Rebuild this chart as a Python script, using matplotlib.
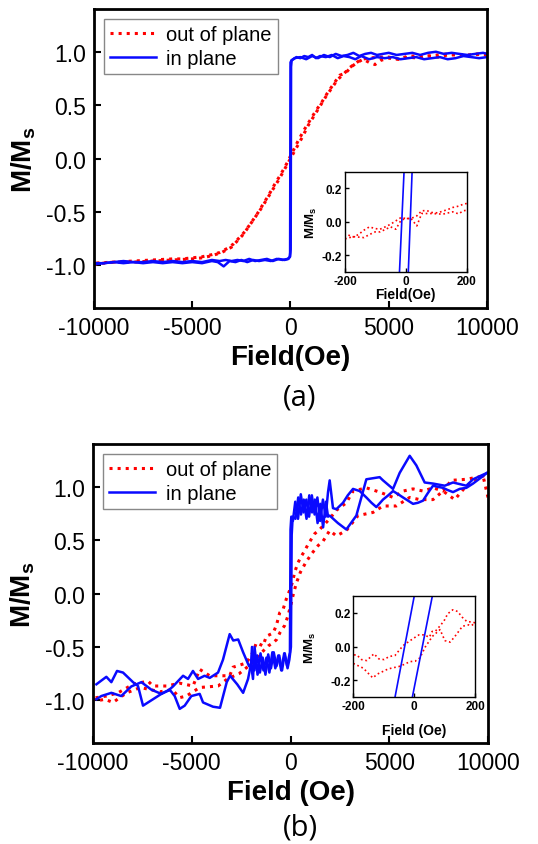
import matplotlib
matplotlib.use('Agg')
import matplotlib.pyplot as plt

plt.rcParams['font.family'] = ['Liberation Sans', 'DejaVu Sans']
plt.rcParams['mathtext.fontset'] = 'custom'
plt.rcParams['mathtext.rm'] = 'Liberation Sans:bold'
plt.rcParams['mathtext.it'] = 'Liberation Sans:bold'
plt.rcParams['mathtext.bf'] = 'Liberation Sans:bold'
plt.rcParams['mathtext.default'] = 'rm'
plt.rcParams['axes.unicode_minus'] = False

RED = '#ff0000'
BLUE = '#0a0aff'

# ---------------- panel (a) ----------------
# out of plane, field sweep down then up
a_oop_down_H = [10000, 9500, 9000, 8500, 8000, 7500, 7000, 6500, 6000, 5500, 5000, 4600, 4300, 4000,
                3700, 3400, 3100, 2800, 2500, 2200, 1900, 1600, 1300, 1000, 700, 400, 100, -200, -500,
                -800, -1100, -1400, -1700, -2000, -2300, -2600, -2900, -3200, -3600, -4000, -4500,
                -5000, -5500, -6000, -7000, -8000, -9000, -10000]
a_oop_down_M = [0.97, 0.98, 0.96, 0.97, 0.97, 0.95, 0.96, 0.94, 0.95, 0.93, 0.94, 0.92, 0.88, 0.90,
                0.93, 0.90, 0.86, 0.80, 0.78, 0.70, 0.62, 0.53, 0.45, 0.36, 0.27, 0.17, 0.06, -0.05, -0.15,
                -0.24, -0.34, -0.43, -0.52, -0.60, -0.68, -0.74, -0.80, -0.84, -0.88, -0.90, -0.92,
                -0.93, -0.94, -0.94, -0.95, -0.96, -0.97, -0.98]
a_oop_up_H = [-10000, -9000, -8000, -7000, -6000, -5000, -4500, -4000, -3500, -3000, -2700, -2400,
              -2100, -1800, -1500, -1200, -900, -600, -300, 0, 300, 600, 900, 1200, 1500, 1800, 2100,
              2400, 2700, 3000, 3300, 3600, 4000, 4500, 5000, 5500, 6000, 7000, 8000, 9000, 10000]
a_oop_up_M = [-0.99, -0.97, -0.97, -0.96, -0.95, -0.94, -0.93, -0.91, -0.88, -0.83, -0.77, -0.71,
              -0.63, -0.55, -0.47, -0.38, -0.29, -0.20, -0.10, 0.0, 0.10, 0.20, 0.31, 0.40, 0.49, 0.58, 0.66,
              0.74, 0.79, 0.85, 0.89, 0.93, 0.94, 0.95, 0.95, 0.93, 0.96, 0.96, 0.98, 0.97, 0.98]

# in plane
a_ip_down_H = [10000, 9600, 9200, 8800, 8400, 8000, 7600, 7200, 6800, 6400, 6000, 5600, 5200, 4800,
               4400, 4000, 3600, 3300, 3000, 2700, 2400, 2100, 1800, 1500, 1300, 1100, 900, 700, 500,
               300, 150, 50, 0, -20, -40, -100, -300, -600, -900, -1200, -1500, -1800, -2100, -2400,
               -2700, -3000, -3300, -3600, -4000, -4500, -5000, -5500, -6000, -6500, -7000, -7500,
               -8000, -8500, -9000, -9500, -10000]
a_ip_down_M = [0.95, 0.94, 0.95, 0.96, 0.94, 0.93, 0.95, 0.94, 0.93, 0.95, 0.94, 0.93, 0.95, 0.94,
               0.95, 0.93, 0.96, 0.93, 0.95, 0.96, 0.94, 0.97, 0.95, 0.96, 0.94, 0.97, 0.95, 0.96, 0.94,
               0.95, 0.93, 0.92, 0.90, -0.88, -0.92, -0.94, -0.95, -0.94, -0.96, -0.94, -0.95, -0.96,
               -0.94, -0.96, -0.95, -0.96, -0.95, -0.96, -0.95, -0.97, -0.96, -0.97, -0.96, -0.97,
               -0.96, -0.97, -0.97, -0.96, -0.97, -0.98, -0.98]
a_ip_up_H = [-10000, -9500, -9000, -8500, -8000, -7500, -7000, -6500, -6000, -5500, -5000, -4500,
             -4000, -3700, -3400, -3100, -2800, -2500, -2200, -1900, -1600, -1300, -1000, -700, -400,
             -150, -20, 10, 30, 60, 200, 500, 800, 1100, 1400, 1700, 2000, 2300, 2600, 2900, 3200,
             3500, 3800, 4100, 4400, 4700, 5000, 5400, 5800, 6200, 6600, 7000, 7400, 7800, 8200, 8600,
             9000, 9400, 9800, 10000]
a_ip_up_M = [-0.99, -0.98, -0.97, -0.98, -0.97, -0.98, -0.97, -0.98, -0.97, -0.98, -0.97, -0.98,
             -0.96, -0.97, -1.01, -0.96, -0.97, -0.95, -0.97, -0.95, -0.96, -0.95, -0.96, -0.94, -0.95,
             -0.94, -0.92, -0.85, 0.86, 0.92, 0.94, 0.95, 0.93, 0.96, 0.94, 0.97, 0.95, 0.98, 0.96, 0.97,
             0.99, 0.96, 0.98, 0.99, 0.97, 0.98, 0.99, 0.97, 0.98, 0.99, 0.97, 0.99, 1.00, 0.98, 0.99,
             0.98, 0.97, 0.98, 0.99, 0.98]

# inset (a), low field detail
ina_oop_down_H = [200, 189, 173, 154, 138, 121, 104, 86, 68, 52, 36, 17, 0, -16, -33, -50, -68, -85,
                  -101, -120, -138, -156, -172, -194, -200]
ina_oop_down_M = [0.11, 0.106, 0.094, 0.086, 0.074, 0.064, 0.054, 0.056, 0.068, 0.066, 0.036, 0.02,
                  0.02, 0.026, 0.006, -0.014, -0.03, -0.044, -0.04, -0.03, -0.05, -0.076, -0.09,
                  -0.076, -0.08]
ina_oop_up_H = [-200, -194, -175, -138, -120, -101, -85, -50, -33, -16, 0, 17, 36, 52, 86, 121, 154,
                173, 189, 200]
ina_oop_up_M = [-0.10, -0.10, -0.088, -0.094, -0.076, -0.06, -0.06, -0.03, -0.044, 0.01, 0.02, 0.02,
                -0.024, 0.05, 0.05, 0.046, 0.06, 0.048, 0.066, 0.07]
ina_ip_down_H = [-4.75, -22.25]
ina_ip_down_M = [0.35, -0.35]
ina_ip_up_H = [7.0, 21.5]
ina_ip_up_M = [-0.35, 0.35]

# ---------------- panel (b) ----------------
b_oop_down_H = [10000, 9750, 8900, 8140, 7720, 7215, 6710, 6200, 5700, 5200, 4514, 3839, 3164, 2827,
                2321, 1983, 1730, 1476, 1223, 1055, 886, 717, 549, 380, 211, 127, 40, -211, -380, -549,
                -717, -886, -1223, -1392, -1729, -1898, -2235, -2910, -3079, -4092, -4599, -4936,
                -5600, -6287, -6962, -7215, -7975, -8734, -9325, -10000]
b_oop_down_M = [0.90, 1.10, 1.07, 1.06, 0.96, 0.99, 0.96, 0.98, 0.96, 0.90, 0.95, 0.99, 0.96, 0.85,
                0.78, 0.70, 0.65, 0.60, 0.56, 0.51, 0.46, 0.40, 0.35, 0.29, 0.20, 0.13, 0.07, -0.05, -0.15,
                -0.18, -0.30, -0.37, -0.40, -0.49, -0.46, -0.55, -0.65, -0.69, -0.77, -0.77, -0.71,
                -0.866, -0.84, -0.866, -0.866, -0.82, -0.85, -0.93, -0.96, -0.98]
b_oop_up_H = [-10000, -9831, -9400, -8987, -8300, -7600, -6600, -6000, -5611, -5274, -4600, -3670,
              -3200, -2600, -2000, -1600, -1291, -1123, -870, -701, -532, -300, -150, 0, 150, 300, 500,
              800, 1100, 1400, 1646, 1983, 2321, 2827, 3417, 4178, 4684, 5359, 6034, 6540, 7215, 7722,
              8312, 8819, 9241, 9747, 10000]
b_oop_up_M = [-0.98, -1.006, -0.99, -1.02, -0.93, -0.88, -0.92, -0.90, -0.975, -0.96, -0.88, -0.866,
              -0.80, -0.75, -0.66, -0.58, -0.52, -0.49, -0.46, -0.43, -0.365, -0.30, -0.22, -0.12, 0.0,
              0.10, 0.20, 0.30, 0.38, 0.45, 0.49, 0.59, 0.54, 0.59, 0.73, 0.76, 0.82, 0.82, 0.90, 0.88,
              0.88, 0.96, 0.88, 0.99, 1.06, 1.10, 1.12]

b_ip_down_H = [9950, 9600, 9241, 8903, 8565, 8228, 7950, 7722, 7450, 7215, 6950, 6709, 6450, 6203,
               5950, 5696, 5450, 5190, 4950, 4683, 4346, 4100, 3839, 3501, 3164, 2900, 2658, 2321, 2150,
               1983, 1899, 1780, 1640, 1500, 1360, 1220, 1080, 940, 800, 660, 520, 380, 240, 120, 40,
               0, -30, -170, -320, -470, -620, -770, -920, -1070, -1220, -1370, -1520, -1670, -1820,
               -1900, -2000, -2100, -2400, -2650, -2900, -3080, -3420, -3670, -4090, -4350, -4680,
               -4940, -5190, -5440, -5950, -6200, -6540, -7050, -7550, -8060, -8570, -9070, -9580,
               -9830]
b_ip_down_M = [1.13, 1.08, 1.03, 0.99, 0.98, 0.95, 0.97, 0.99, 1.00, 1.01, 0.94, 0.87, 0.85, 0.84,
               0.87, 0.90, 0.93, 0.96, 0.92, 0.88, 0.81, 0.85, 0.90, 0.96, 0.98, 0.92, 0.85, 0.79, 0.80,
               1.06, 0.95, 0.72, 0.88, 0.68, 0.90, 0.74, 0.92, 0.72, 0.88, 0.76, 0.93, 0.70, 0.86, 0.68,
               0.72, 0.60, -0.55, -0.68, -0.56, -0.72, -0.58, -0.70, -0.55, -0.74, -0.60, -0.72, -0.56,
               -0.76, -0.50, -0.80, -0.66, -0.68, -0.55, -0.43, -0.44, -0.38, -0.62, -0.74, -0.79,
               -0.77, -0.80, -0.725, -0.80, -0.77, -0.87, -0.91, -0.94, -0.90, -0.83, -0.87, -0.96,
               -0.93, -0.96, -0.99]
b_ip_up_H = [-9830, -9325, -9072, -8785, -8481, -7975, -7722, -7469, -6962, -6456, -6118, -5865, -5611,
             -5358, -5021, -4599, -4430, -3924, -3570, -3230, -3060, -2700, -2400, -2150, -2000, -1950,
             -1830, -1690, -1550, -1410, -1270, -1130, -990, -850, -710, -570, -430, -290, -150, -60,
             20, 60, 110, 250, 390, 530, 670, 810, 950, 1090, 1230, 1370, 1510, 1650, 1790, 1900,
             1983, 2400, 2827, 3333, 3839, 4514, 4683, 5190, 5527, 6034, 6372, 6793, 7215, 7806, 8228,
             8903, 9241, 9950]
b_ip_up_M = [-0.85, -0.78, -0.83, -0.725, -0.74, -0.83, -0.866, -1.05, -0.99, -0.93, -0.90, -0.96,
             -1.08, -1.05, -0.96, -0.94, -1.02, -1.06, -1.07, -0.83, -0.77, -0.85, -0.93, -0.80, -0.66,
             -0.50, -0.72, -0.58, -0.74, -0.60, -0.76, -0.57, -0.70, -0.55, -0.68, -0.58, -0.72, -0.56,
             -0.70, -0.62, -0.50, 0.55, 0.72, 0.70, 0.90, 0.74, 0.88, 0.70, 0.92, 0.76, 0.88, 0.66,
             0.84, 0.62, 0.86, 0.72, 0.73, 0.66, 0.60, 0.73, 1.07, 1.09, 1.06, 0.98, 1.13, 1.29, 1.20,
             1.04, 1.03, 1.01, 1.04, 1.01, 1.07, 1.13]

# inset (b)
inb_oop_down_H = [200, 191, 173, 158, 143, 127, 110, 101, 88, 70, 59, 50, 32, 16, 0, -17, -36, -50,
                  -63, -82, -99, -116, -132, -156, -173, -189, -200]
inb_oop_down_M = [0.14, 0.144, 0.148, 0.173, 0.207, 0.217, 0.193, 0.16, 0.128, 0.091, 0.089, 0.055,
                  0.069, 0.069, 0.051, 0.03, 0.006, -0.024, -0.053, -0.059, -0.077, -0.073, -0.043,
                  -0.083, -0.077, -0.049, -0.05]
inb_oop_up_H = [-200, -167, -151, -136, -120, -85, -50, -33, -14, 3, 19, 36, 60, 85, 101, 118, 132,
                159, 180, 189, 200]
inb_oop_up_M = [-0.10, -0.128, -0.158, -0.185, -0.162, -0.132, -0.118, -0.106, -0.089, -0.087,
                -0.067, -0.004, 0.06, 0.10, 0.035, 0.026, 0.055, 0.12, 0.128, 0.124, 0.14]
inb_ip_down_H = [5.8, -68.3]
inb_ip_down_M = [0.35, -0.35]
inb_ip_up_H = [-11.5, 65.5]
inb_ip_up_M = [-0.35, 0.35]

main_xticks = [-10000, -5000, 0, 5000, 10000]
main_yticks = [-1.0, -0.5, 0.0, 0.5, 1.0]
inset_xticks = [-200, 0, 200]
inset_yticks = [-0.2, 0.0, 0.2]


def style_main(ax, xlabel):
    ax.set_xlim(-10000, 10000)
    ax.set_ylim(-1.4, 1.4)
    ax.set_xticks(main_xticks)
    ax.set_yticks(main_yticks)
    ax.set_yticklabels([f'{v:.1f}' for v in main_yticks])
    ax.tick_params(direction='in', length=5, width=1.5, labelsize=16.5, pad=6,
                   top=False, right=False)
    for s in ax.spines.values():
        s.set_linewidth(2.0)
    ax.set_xlabel(xlabel, fontsize=20, fontweight='bold', labelpad=3)
    ax.set_ylabel('M/M$_s$', fontsize=20, fontweight='bold', labelpad=6)
    leg = ax.legend(loc='upper left', fontsize=14.5, fancybox=False, edgecolor='#888888',
                    handlelength=2.3, handletextpad=0.5, labelspacing=0.25,
                    borderaxespad=0.5, borderpad=0.3, framealpha=1)
    leg.get_frame().set_linewidth(1.0)


def style_inset(ax, xlabel, xpad, ypad):
    ax.set_xlim(-200, 200)
    ax.set_ylim(-0.3, 0.3)
    ax.set_xticks(inset_xticks)
    ax.set_yticks(inset_yticks)
    ax.set_yticklabels([f'{v:.1f}' for v in inset_yticks])
    ax.tick_params(direction='in', length=3, width=1, labelsize=8.5, pad=2,
                   top=False, right=False)
    for lab in ax.get_xticklabels() + ax.get_yticklabels():
        lab.set_fontweight('bold')
    for s in ax.spines.values():
        s.set_linewidth(1.0)
    ax.set_xlabel(xlabel, fontsize=10, fontweight='bold', labelpad=xpad)
    ax.set_ylabel('M/M$_s$', fontsize=9.5, fontweight='bold', labelpad=ypad)


fig = plt.figure(figsize=(5.38, 8.45), dpi=100)

# (a)
ax1 = fig.add_axes([0.1747, 0.6343, 0.7305, 0.3538])
ax1.plot(a_oop_down_H, a_oop_down_M, ':', color=RED, lw=2.2, label='out of plane')
ax1.plot(a_oop_up_H, a_oop_up_M, ':', color=RED, lw=2.2)
ax1.plot(a_ip_down_H, a_ip_down_M, '-', color=BLUE, lw=1.8, label='in plane')
ax1.plot(a_ip_up_H, a_ip_up_M, '-', color=BLUE, lw=1.8)
style_main(ax1, 'Field(Oe)')

ins1 = fig.add_axes([0.6413, 0.6769, 0.2262, 0.1187])
ins1.plot(ina_oop_down_H, ina_oop_down_M, ':', color=RED, lw=1.2)
ins1.plot(ina_oop_up_H, ina_oop_up_M, ':', color=RED, lw=1.2)
ins1.plot(ina_ip_down_H, ina_ip_down_M, '-', color=BLUE, lw=1.2)
ins1.plot(ina_ip_up_H, ina_ip_up_M, '-', color=BLUE, lw=1.2)
style_inset(ins1, 'Field(Oe)', 0, 2)

# (b)
ax2 = fig.add_axes([0.1729, 0.1195, 0.7342, 0.3538])
ax2.plot(b_oop_down_H, b_oop_down_M, ':', color=RED, lw=2.2, label='out of plane')
ax2.plot(b_oop_up_H, b_oop_up_M, ':', color=RED, lw=2.2)
ax2.plot(b_ip_down_H, b_ip_down_M, '-', color=BLUE, lw=1.8, label='in plane')
ax2.plot(b_ip_up_H, b_ip_up_M, '-', color=BLUE, lw=1.8)
style_main(ax2, 'Field (Oe)')

ins2 = fig.add_axes([0.6567, 0.1736, 0.2262, 0.1202])
ins2.plot(inb_oop_down_H, inb_oop_down_M, ':', color=RED, lw=1.2)
ins2.plot(inb_oop_up_H, inb_oop_up_M, ':', color=RED, lw=1.2)
ins2.plot(inb_ip_down_H, inb_ip_down_M, '-', color=BLUE, lw=1.2)
ins2.plot(inb_ip_up_H, inb_ip_up_M, '-', color=BLUE, lw=1.2)
style_inset(ins2, 'Field (Oe)', 8, 9)

fig.text(300 / 538, 1 - 398 / 845, '(a)', ha='center', va='center', fontsize=21,
         family=['Open Sans', 'DejaVu Sans'])
fig.text(300 / 538, 1 - 828 / 845, '(b)', ha='center', va='center', fontsize=21,
         family=['Open Sans', 'DejaVu Sans'])

fig.savefig('out.png', dpi=100)
